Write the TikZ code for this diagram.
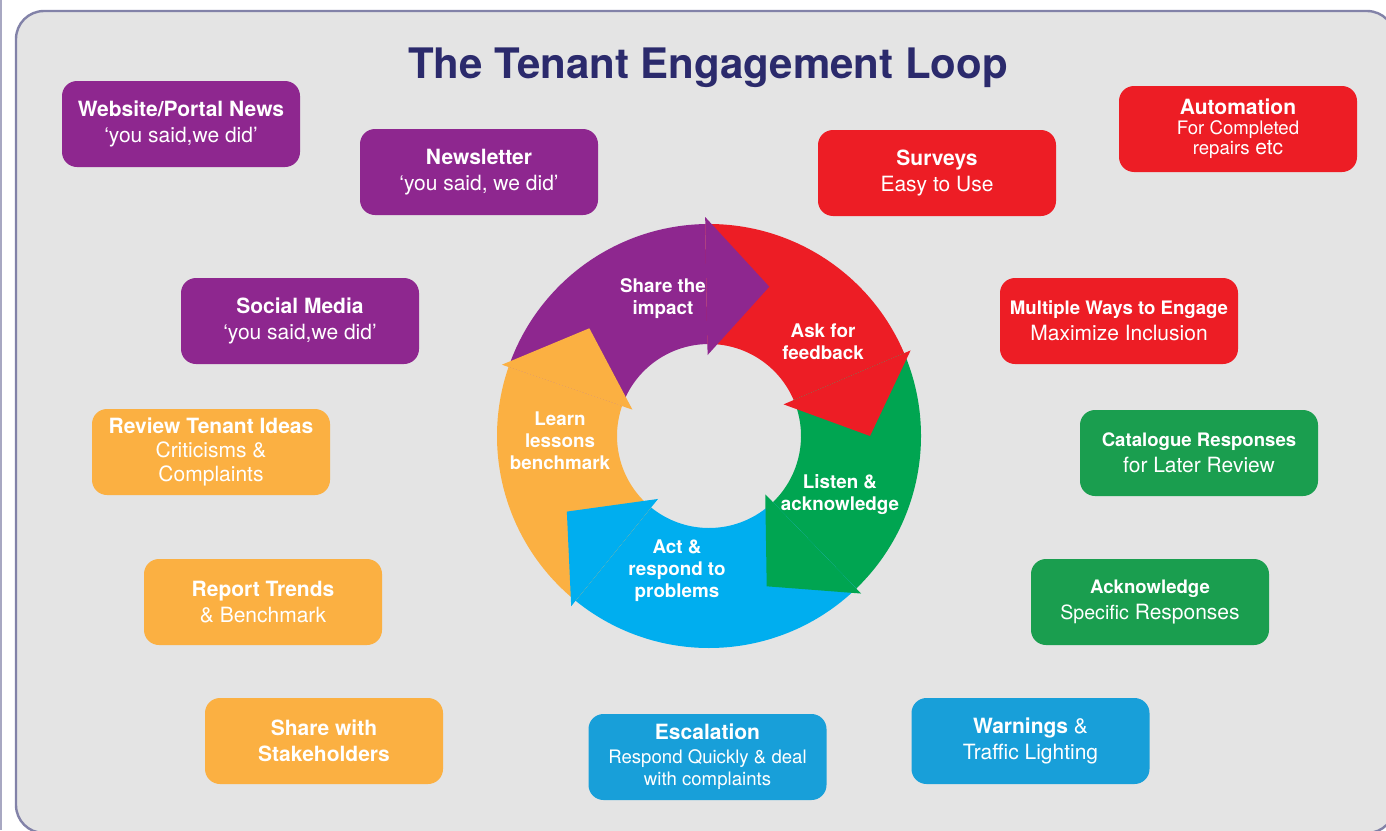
\documentclass[tikz,border=0pt]{standalone}
\usepackage{fontspec}
\setmainfont{TeX Gyre Heros}

\definecolor{loopnavy}{HTML}{2B2A6C}
\definecolor{looppurple}{HTML}{8E278F}
\definecolor{loopred}{HTML}{ED1D25}
\definecolor{loopgreen}{HTML}{00A551}
\definecolor{loopblue}{HTML}{00AEEF}
\definecolor{looporange}{HTML}{FBB042}
\definecolor{boxgreen}{HTML}{1A9E4F}
\definecolor{boxblue}{HTML}{189FD9}
\definecolor{panelgrey}{HTML}{E4E4E4}
\definecolor{panelline}{HTML}{8282A8}

\begin{document}
\begin{tikzpicture}[x=0.5pt,y=-0.5pt,
  card/.style={rounded corners=7.5pt, minimum width=119pt, minimum height=43pt,
    inner sep=0pt, align=center, text=white, font=\fontsize{10.5}{13}\selectfont},
  ringtext/.style={align=center, text=white, font=\bfseries\fontsize{9.4}{11}\selectfont}]
\useasboundingbox (0,0) rectangle (1386,830);
\clip (0,0) rectangle (1386,830);

% panel
\draw[panelline!70, line width=0.6pt] (1,0) -- (1,830);
\draw[panelline, line width=1.2pt, fill=panelgrey, rounded corners=14pt] (16,11) rectangle (1395,833);

\node[anchor=base, text=loopnavy, font=\bfseries\fontsize{21}{25}\selectfont] (title) at (708,78) {The Tenant Engagement Loop};

% the loop: bodies first, then the heads on top
\begin{scope}[shift={(709,436)}]
\foreach \from/\to/\col in {-161/-91/looppurple, -91/-23/loopred, -23/46/loopgreen, 46/129/loopblue, 129/199/looporange}
  \fill[\col] (\from:212) arc[start angle=\from, end angle=\to, radius=212]
    -- (\to:92) arc[start angle=\to, end angle=\from, radius=92] -- cycle;
\foreach \base/\col in {-91/looppurple, -23/loopred, 46/loopgreen, 129/loopblue, 199/looporange}
  \fill[\col] (\base:219) -- ({\base+23}:161) -- (\base:81) -- cycle;
\end{scope}

\node[ringtext] (share) at (663,299) {Share the\\impact};
\node[ringtext] (ask) at (823,342) {Ask for\\feedback};
\node[ringtext] (listen) at (840,495) {Listen \&\\acknowledge};
\node[ringtext] (act) at (677,571) {Act \&\\respond to\\problems};
\node[ringtext] (learn) at (560,441) {Learn\\lessons\\benchmark};

% purple cards
\node[card, fill=looppurple] (web) at (181,124) {\textbf{Website/Portal News}\\‘you said,we did’};
\node[card, fill=looppurple] (newsletter) at (479,172) {\textbf{Newsletter}\\‘you said, we did’};
\node[card, fill=looppurple] (social) at (300,321) {\textbf{Social Media}\\‘you said,we did’};

% orange cards
\node[card, fill=looporange] (ideas) at (211,452) {\textbf{Review Tenant Ideas}\\[-1pt]Criticisms \&\\[-1pt]Complaints};
\node[card, fill=looporange] (trends) at (263,602) {\textbf{Report Trends}\\\& Benchmark};
\node[card, fill=looporange, font=\bfseries\fontsize{10.5}{13}\selectfont] (stakeholders) at (324,741) {Share with\\Stakeholders};

% blue cards
\node[card, fill=boxblue] (escalation) at (707.5,757) {\textbf{Escalation}\\[-1pt]{\fontsize{9.3}{11}\selectfont Respond Quickly \& deal}\\[-2pt]{\fontsize{9.3}{11}\selectfont with complaints}};
\node[card, fill=boxblue] (warnings) at (1030.5,741) {\textbf{Warnings} \&\\Traffic Lighting};

% green cards
\node[card, fill=boxgreen] (acknowledge) at (1150,602) {{\bfseries\fontsize{9.3}{11}\selectfont Acknowledge}\\{\fontsize{9.8}{12}\selectfont Specific} Responses};
\node[card, fill=boxgreen] (catalogue) at (1199,453) {{\bfseries\fontsize{9.3}{11}\selectfont Catalogue Responses}\\for Later Review};

% red cards
\node[card, fill=loopred] (ways) at (1119,321) {{\bfseries\fontsize{9.3}{11}\selectfont Multiple Ways to Engage}\\Maximize Inclusion};
\node[card, fill=loopred] (surveys) at (937,173) {\textbf{Surveys}\\Easy to Use};
\node[card, fill=loopred] (automation) at (1238,129) {\textbf{Automation}\\[-3pt]{\fontsize{9.3}{10}\selectfont For Completed}\\[-3pt]{\fontsize{9.3}{10}\selectfont repairs} etc};
\end{tikzpicture}
\end{document}
